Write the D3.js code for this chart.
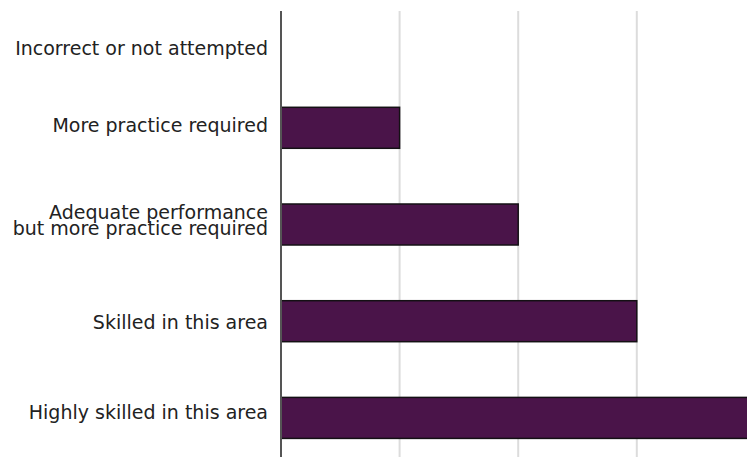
<!DOCTYPE html>
<html>
<head>
<meta charset="utf-8">
<script src="https://cdn.jsdelivr.net/npm/d3@7"></script>
<style>
  html, body { margin: 0; padding: 0; background: #fff; }
  svg { display: block; }
</style>
</head>
<body>
<svg id="chart" width="747" height="457"></svg>
<script>
// ---- data ----
const categories = [
  "Incorrect or not attempted",
  "More practice required",
  "Adequate performance\nbut more practice required",
  "Skilled in this area",
  "Highly skilled in this area"
];
const values = [0, 1, 2, 3, 4];
const xTicks = [0, 1, 2, 3, 4];

// ---- layout ----
const W = 747, H = 457;
const axisX = 281, unitPx = 118.6;
const plotTop = 10.6, plotBottom = 438.4;
const labelDy = [24, 4.5, -5.8, 7.8, 1.5]; // baseline offset from band centre
const lineHeight = 16;

const svg = d3.select("#chart");

const x = d3.scaleLinear().domain([0, 4]).range([axisX, axisX + 4 * unitPx]);
const y = d3.scaleBand().domain(categories).range([plotTop, plotBottom])
  .paddingInner(0.576).paddingOuter(0);

// gridlines
svg.append("g").selectAll("line").data(xTicks.filter(t => t > 0)).join("line")
  .attr("x1", d => x(d)).attr("x2", d => x(d))
  .attr("y1", 11).attr("y2", H)
  .attr("stroke", "#dcdcdc").attr("stroke-width", 2);

// bars
svg.append("g").selectAll("rect")
  .data(categories.map((c, i) => ({c, v: values[i]})).filter(d => d.v > 0))
  .join("rect")
  .attr("x", x(0))
  .attr("y", d => y(d.c))
  .attr("width", d => x(d.v) - x(0))
  .attr("height", y.bandwidth())
  .attr("fill", "#4a1449")
  .attr("stroke", "#141014")
  .attr("stroke-width", 1.5);

// axis line
svg.append("line")
  .attr("x1", axisX).attr("x2", axisX)
  .attr("y1", 11).attr("y2", H)
  .attr("stroke", "#555").attr("stroke-width", 2);

// category labels
const lab = svg.append("g")
  .attr("font-family", "DejaVu Sans, sans-serif")
  .attr("font-size", 19)
  .attr("fill", "#222")
  .attr("text-anchor", "end");

categories.forEach((c, i) => {
  const lines = c.split("\n");
  const t = lab.append("text")
    .attr("x", 268)
    .attr("y", y(c) + y.bandwidth() / 2 + labelDy[i]);
  lines.forEach((ln, j) => {
    t.append("tspan").attr("x", 268).attr("dy", j === 0 ? 0 : lineHeight).text(ln);
  });
});
</script>
</body>
</html>
